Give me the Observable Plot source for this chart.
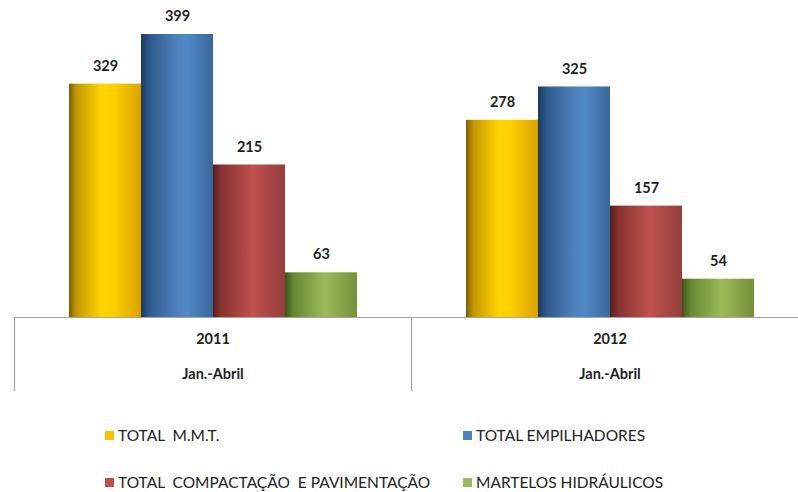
<!DOCTYPE html>
<html>
<head>
<meta charset="utf-8">
<script src="https://cdn.jsdelivr.net/npm/d3@7"></script>
<script src="https://cdn.jsdelivr.net/npm/@observablehq/plot@0.6"></script>
<style>
  html, body { margin: 0; padding: 0; background: #fff; overflow: hidden; }
  #chart { width: 798px; }
  .legend { display: grid; grid-template-columns: 358px auto; row-gap: 29px; padding: 26px 0 0 105px; font-family: Lato, "Open Sans", sans-serif; font-size: 15.5px; color: #222; }
  .legend div { display: flex; align-items: center; line-height: 18px; white-space: pre; }
  .legend span.sw { display: inline-block; width: 9px; height: 9px; margin-right: 4px; }
</style>
</head>
<body>
<div id="chart"></div>
<script>
const years = ["2011", "2012"];
const periodLabels = ["Jan.-Abril", "Jan.-Abril"];
const series = ["TOTAL  M.M.T.", "TOTAL EMPILHADORES", "TOTAL  COMPACTAÇÃO  E PAVIMENTAÇÃO", "MARTELOS HIDRÁULICOS"];
const values2011 = [329, 399, 215, 63];
const values2012 = [278, 325, 157, 54];

const swatchColors = ["#ffc000", "#4f81bd", "#c0504d", "#9bbb59"];
const gradients = [
  [["0%", "#7d5e00"], ["10%", "#c29600"], ["45%", "#ffd500"], ["62%", "#ffcf00"], ["100%", "#d9a200"]],
  [["0%", "#1d3a5e"], ["12%", "#2f5a8c"], ["50%", "#4f81bd"], ["65%", "#5088c6"], ["100%", "#3a6698"]],
  [["0%", "#5a201f"], ["12%", "#873332"], ["55%", "#c0504d"], ["100%", "#943f3d"]],
  [["0%", "#3f561c"], ["12%", "#688733"], ["55%", "#9bbb59"], ["100%", "#74903a"]]
];
const gradIds = series.map((_, i) => `url(#grad${i})`);

const rows = [];
years.forEach((y, yi) => {
  const vals = yi === 0 ? values2011 : values2012;
  series.forEach((s, si) => rows.push({year: y, series: s, value: vals[si]}));
});
const periodRows = years.map((y, i) => ({year: y, label: periodLabels[i]}));

const font = "Lato, 'Open Sans', sans-serif";

const plot = Plot.plot({
  width: 798,
  height: 400,
  marginTop: 34,
  marginBottom: 83,
  marginLeft: 14,
  marginRight: 0,
  style: {fontFamily: font, background: "#fff", overflow: "visible"},
  fx: {domain: years, range: [14, 808], padding: 0, axis: null},
  x: {domain: series, paddingInner: 0, paddingOuter: 0.75, axis: null},
  y: {domain: [0, 399], axis: null},
  color: {domain: series, range: gradIds},
  marks: [
    Plot.barY(rows, {fx: "year", x: "series", y: "value", fill: "series"}),
    Plot.ruleY([0], {stroke: "#a6a6a6", strokeWidth: 1.2}),
    Plot.frame({anchor: "left", stroke: "#a6a6a6", strokeWidth: 1.2, insetTop: 283, insetBottom: -73}),
    Plot.text(rows, {fx: "year", x: "series", y: "value", text: d => String(d.value), dy: -18, fontSize: 14.5, fontWeight: "bold", fill: "#1e1e1e"}),
    Plot.text(periodRows, {fx: "year", text: "year", frameAnchor: "bottom", dy: 26, fontSize: 14.5, fontWeight: "bold", fill: "#222"}),
    Plot.text(periodRows, {fx: "year", text: "label", frameAnchor: "bottom", dy: 61, fontSize: 14.5, fontWeight: "bold", fill: "#222"})
  ]
});

const svg = d3.select(plot);
const defs = svg.insert("defs", ":first-child");
gradients.forEach((stops, i) => {
  const g = defs.append("linearGradient").attr("id", `grad${i}`).attr("x1", "0").attr("x2", "1").attr("y1", "0").attr("y2", "0");
  stops.forEach(([o, c]) => g.append("stop").attr("offset", o).attr("stop-color", c));
});

document.getElementById("chart").appendChild(plot);

const legend = document.createElement("div");
legend.className = "legend";
series.forEach((s, i) => {
  const item = document.createElement("div");
  const sw = document.createElement("span");
  sw.className = "sw";
  sw.style.background = swatchColors[i];
  item.appendChild(sw);
  item.appendChild(document.createTextNode(s));
  legend.appendChild(item);
});
document.getElementById("chart").appendChild(legend);
</script>
</body>
</html>
